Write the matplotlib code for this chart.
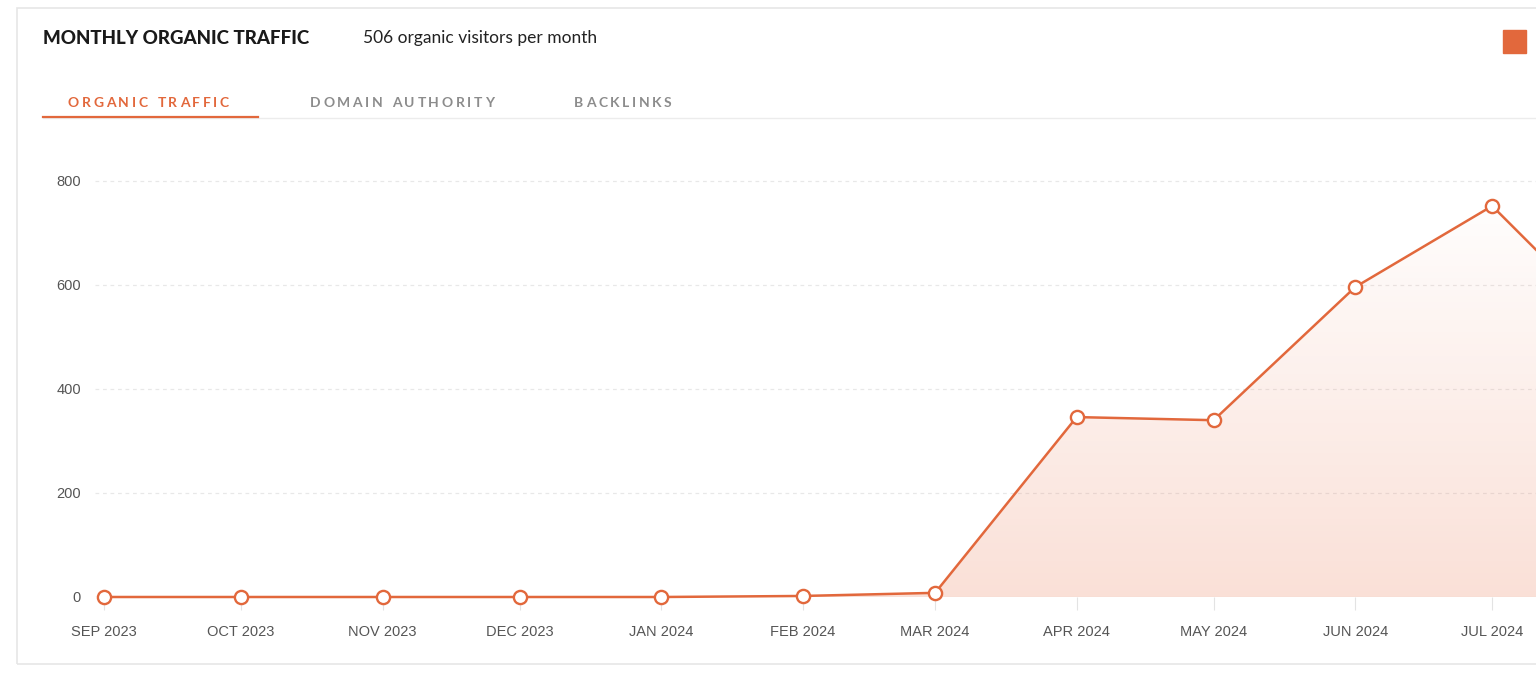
import datetime as dt

import matplotlib
matplotlib.use("Agg")
import matplotlib.dates as mdates
import matplotlib.pyplot as plt
import numpy as np
from matplotlib.patches import Polygon, Rectangle

# data
months = ["2023-09-01", "2023-10-01", "2023-11-01", "2023-12-01", "2024-01-01",
          "2024-02-01", "2024-03-01", "2024-04-01", "2024-05-01", "2024-06-01",
          "2024-07-01", "2024-08-01"]
traffic = [0, 0, 0, 0, 0, 2, 8, 346, 340, 596, 752, 480]
tick_labels = ["SEP 2023", "OCT 2023", "NOV 2023", "DEC 2023", "JAN 2024",
               "FEB 2024", "MAR 2024", "APR 2024", "MAY 2024", "JUN 2024",
               "JUL 2024"]
y_ticks = [0, 200, 400, 600, 800]
tabs = ["ORGANIC TRAFFIC", "DOMAIN AUTHORITY", "BACKLINKS"]

ORANGE = "#E2683C"
W, H = 1536, 676


def px(x, y):
    return x / W, 1 - y / H


def spaced_text(fig, x, y, s, spacing, **kw):
    # draw letters one by one to get the tracking of the tabs
    r = fig.canvas.get_renderer()
    cx = x
    for ch in s:
        if ch == " ":
            tmp = fig.text(0, 0, "n", **kw)
            w = tmp.get_window_extent(renderer=r).width * 0.6
            tmp.remove()
        else:
            t = fig.text(*px(cx, y), ch, va="center", ha="left", **kw)
            w = t.get_window_extent(renderer=r).width
        cx += w + spacing


dates = [dt.datetime.strptime(m, "%Y-%m-%d") for m in months]
xnum = mdates.date2num(dates)

fig = plt.figure(figsize=(W / 100, H / 100), dpi=100)
fig.patch.set_facecolor("white")

# card outline
fig.patches.append(Rectangle(px(17, 664), (W + 10 - 17) / W, (664 - 8) / H,
                             transform=fig.transFigure, fill=False,
                             edgecolor="#e6e6e6", linewidth=1.2))

fig.text(*px(43, 39), "MONTHLY ORGANIC TRAFFIC", fontsize=13.5, fontweight="black",
         family="Lato", color="#1a1a1a", va="center")
fig.text(*px(363, 38), "506 organic visitors per month", fontsize=12.5,
         family="Lato", color="#222222", va="center")
fig.patches.append(Rectangle(px(1503, 53), 23 / W, 23 / H,
                             transform=fig.transFigure, color=ORANGE))

# tabs
tab_x = [68, 310, 574]
for i, (label, tx) in enumerate(zip(tabs, tab_x)):
    spaced_text(fig, tx, 103, label, 2.6, fontsize=10, fontweight="bold",
                family="Lato", color=ORANGE if i == 0 else "#8c8c8c")
fig.lines.append(plt.Line2D([43 / W, 1], [1 - 118 / H] * 2,
                            transform=fig.transFigure, color="#ececec", lw=1))
fig.lines.append(plt.Line2D([43 / W, 258 / W], [1 - 117 / H] * 2,
                            transform=fig.transFigure, color=ORANGE, lw=1.6))

# plot area
left, bottom = px(95, 597)
top = 1 - 140 / H
ax = fig.add_axes([left, bottom, 1 - left, top - bottom])
ax.set_facecolor("none")

day = 1.0
x0 = xnum[0] - 2 * day
x1 = xnum[10] + 9.6 * day
ymax = (597 - 140) / 0.52

# gradient fill under the line
grad = np.linspace(0.27, 0.0, 256).reshape(-1, 1)
rgba = np.zeros((256, 1, 4))
rgba[..., 0] = 0.93
rgba[..., 1] = 0.55
rgba[..., 2] = 0.42
rgba[..., 3] = grad
img = ax.imshow(rgba, extent=[x0, x1, 0, 800], origin="lower", aspect="auto",
                zorder=1)
poly = Polygon(np.column_stack([np.r_[xnum[0], xnum, xnum[-1]],
                                np.r_[0, traffic, 0]]),
               closed=True, transform=ax.transData, facecolor="none",
               edgecolor="none")
ax.add_patch(poly)
img.set_clip_path(poly)
ax.set_xlim(x0, x1)
ax.set_ylim(0, ymax)

ax.plot(xnum, traffic, color=ORANGE, lw=1.8, marker="o", markersize=9.5,
        markerfacecolor="white", markeredgecolor=ORANGE, markeredgewidth=1.7,
        zorder=3, clip_on=False)

ax.set_yticks(y_ticks)
ax.set_yticklabels([str(v) for v in y_ticks])
ax.set_xticks(xnum[:11])
ax.set_xticklabels(tick_labels)
for v in y_ticks[1:]:
    ax.axhline(v, color="#e8e8e8", lw=0.9, ls=(0, (3, 3)), zorder=0)
ax.axhline(0, color="#ededed", lw=0.9, zorder=0)

for s in ax.spines.values():
    s.set_visible(False)
ax.tick_params(axis="y", length=0, pad=10, labelsize=10.5, labelcolor="#555555")
ax.tick_params(axis="x", length=9, width=0.8, color="#e3e3e3", pad=11,
               labelsize=10.5, labelcolor="#555555")
for lab in ax.get_xticklabels() + ax.get_yticklabels():
    lab.set_family("Liberation Sans")

fig.savefig("out.png", dpi=100)
